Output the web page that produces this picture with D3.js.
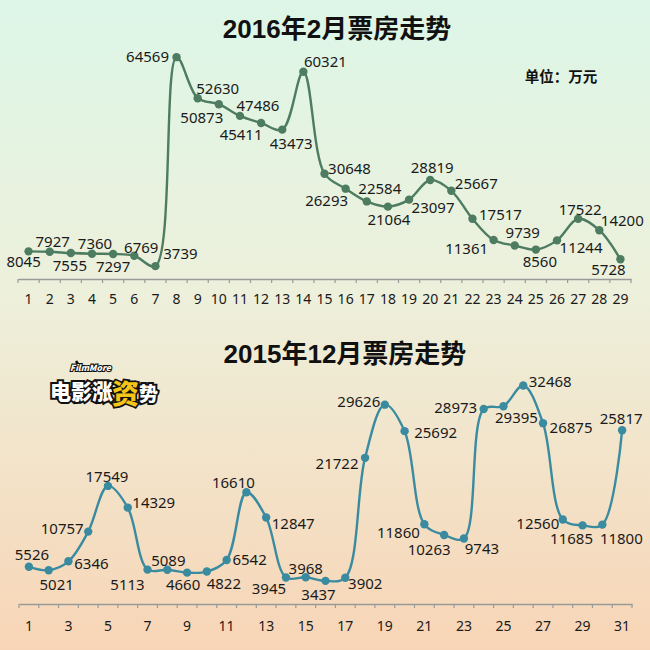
<!DOCTYPE html>
<html><head><meta charset="utf-8">
<script src="https://cdn.jsdelivr.net/npm/d3@7"></script>
<style>
html,body{margin:0;padding:0;background:#fff;}
svg{display:block;}
</style></head>
<body>
<script>
// ---- data ----
const febDays = d3.range(1, 30);
const febValues = [8045,7927,7555,7360,7297,6769,3739,64569,52630,50873,47486,45411,43473,60321,30648,26293,22584,21064,23097,28819,25667,17517,11361,9739,8560,11244,17522,14200,5728];
const febTickLabels = febDays.map(String);

const decDays = d3.range(1, 32);
const decValues = [5526,5021,6346,10757,17549,14329,5113,5089,4660,4822,6542,16610,12847,3945,3968,3437,3902,21722,29626,25692,11860,10263,9743,28973,29395,32468,26875,12560,11685,11800,25817];
const decTickLabels = decDays.filter(d => d % 2 === 1).map(String);

const febTitle = "2016年2月票房走势";
const decTitle = "2015年12月票房走势";
const unitText = "单位：万元";

// ---- label placement (layout only) ----
const febLabelDx = [-5,3,-1,3,0,7,25,-29,20,-17,18,-20,9,22,25,-19,13,1,24,2,25,28,-27,8,4,24,2,23,-12];
const febLabelDy = [10,-11,12,-11,12,-9,-13,-1,-10,13,-11,11,13,-11,-6,11,-13,12,7,-13,-8,-5,8,-14,11,7,-10,-10,10];
const decLabelDx = [3,8,23,-26,-1,26,-20,1,-4,17,23,-13,27,-17,0,-7,20,-28,-26,31,-26,-15,18,-28,13,27,28,-25,-11,19,-1];
const decLabelDy = [-13,14,2,-4,-10,-6,14,-10,11,11,-1,-10,5,11,-9,13,5,5,-4,1,8,14,10,-2,11,-5,4,4,13,13,-12];

const W = 650, H = 650;
const svg = d3.select("body").append("svg").attr("width", W).attr("height", H);

const defs = svg.append("defs");
const grad = defs.append("linearGradient").attr("id","bg").attr("x1",0).attr("y1",0).attr("x2",0).attr("y2",1);
grad.append("stop").attr("offset","0%").attr("stop-color","#ddf6e7");
grad.append("stop").attr("offset","45%").attr("stop-color","#edf0db");
grad.append("stop").attr("offset","100%").attr("stop-color","#f8d5b6");
svg.append("rect").attr("width",W).attr("height",H).attr("fill","url(#bg)");

const labelFont = "'Noto Sans', 'Open Sans', sans-serif";
const titleFont = "'Liberation Sans', 'Noto Sans CJK SC', sans-serif";

function drawChart(cfg) {
  const g = svg.append("g");
  const x = d3.scaleBand().domain(cfg.days).range(cfg.xRange).padding(0);
  const y = d3.scaleLinear().domain(cfg.yDomain).range(cfg.yRange);

  // axis
  const axis = d3.axisBottom(x).tickSize(0).tickPadding(0)
    .tickFormat(d => cfg.tickLabels.includes(String(d)) ? String(d) : "");
  const ag = g.append("g").attr("transform", `translate(0,${cfg.yRange[0]})`).call(axis);
  ag.select(".domain").attr("stroke","#9a9a9a").attr("stroke-width",1.5);
  ag.selectAll(".tick text").attr("font-family",labelFont).attr("font-size",14).attr("fill","#1a1a1a")
    .attr("y", cfg.tickBaseline).attr("dy", 0);
  // tick marks at band boundaries
  const bounds = cfg.days.map(d => x(d)).concat([x(cfg.days[cfg.days.length-1]) + x.bandwidth()]);
  ag.selectAll("line.bt").data(bounds).join("line").attr("class","bt")
    .attr("x1", d => d).attr("x2", d => d).attr("y1", 0).attr("y2", 4)
    .attr("stroke","#9a9a9a").attr("stroke-width",1.2);

  const pts = cfg.days.map((d,i) => [x(d) + x.bandwidth()/2, y(cfg.values[i])]);
  const line = d3.line().curve(d3.curveCatmullRom.alpha(0.5));
  g.append("path").attr("d", line(pts)).attr("fill","none").attr("stroke",cfg.color).attr("stroke-width",2.4);
  g.selectAll("circle").data(pts).join("circle").attr("cx",d=>d[0]).attr("cy",d=>d[1]).attr("r",4.2).attr("fill",cfg.color);

  g.selectAll("text.lbl").data(cfg.values).join("text").attr("class","lbl")
    .attr("x",(d,i)=>pts[i][0] + cfg.dx[i])
    .attr("y",(d,i)=>pts[i][1] + cfg.dy[i])
    .attr("text-anchor","middle").attr("dominant-baseline","central")
    .attr("font-family",labelFont).attr("font-size",15).attr("fill","#1a1a1a")
    .text(d=>d);

  g.append("text").attr("x",cfg.titleX).attr("y",cfg.titleY).attr("text-anchor","middle")
    .attr("dominant-baseline","central")
    .attr("font-family",titleFont).attr("font-weight","bold").attr("font-size",26).attr("fill","#111")
    .text(cfg.title);
}

drawChart({
  days: febDays, values: febValues, tickLabels: febTickLabels,
  xRange: [18, 631], yDomain: [0, 70000], yRange: [279, 38.5],
  color: "#4d7c60", dx: febLabelDx, dy: febLabelDy, tickBaseline: 25,
  title: febTitle, titleX: 337, titleY: 29
});
drawChart({
  days: decDays, values: decValues, tickLabels: decTickLabels,
  xRange: [19, 632], yDomain: [0, 35000], yRange: [604, 368.5],
  color: "#3a8ba0", dx: decLabelDx, dy: decLabelDy, tickBaseline: 27,
  title: decTitle, titleX: 345, titleY: 354
});

svg.append("text").attr("x",561).attr("y",75).attr("text-anchor","middle").attr("dominant-baseline","central")
  .attr("font-family","'Noto Sans CJK SC', sans-serif").attr("font-weight","bold").attr("font-size",14.5).attr("fill","#111")
  .text(unitText);

// logo
const logo = svg.append("g").attr("font-family","'Noto Sans CJK SC', sans-serif").attr("font-weight","900");
logo.append("path").attr("d","M76,361 L82,370").attr("stroke","#111").attr("stroke-width",2.5);
logo.append("text").attr("x",70).attr("y",371).attr("font-size",8.5).attr("font-style","italic")
  .attr("fill","#fff").attr("stroke","#111").attr("stroke-width",2.2).attr("paint-order","stroke").text("FilmMore");
logo.append("text").attr("x",50).attr("y",399).attr("font-size",21)
  .attr("fill","#fff").attr("stroke","#111").attr("stroke-width",4).attr("paint-order","stroke").text("电影涨");
logo.append("text").attr("x",112).attr("y",404).attr("font-size",27)
  .attr("fill","#f4c417").attr("stroke","#111").attr("stroke-width",3.5).attr("paint-order","stroke").text("资");
logo.append("text").attr("x",139).attr("y",401).attr("font-size",19)
  .attr("fill","#fff").attr("stroke","#111").attr("stroke-width",4).attr("paint-order","stroke").text("势");
</script>
</body></html>
